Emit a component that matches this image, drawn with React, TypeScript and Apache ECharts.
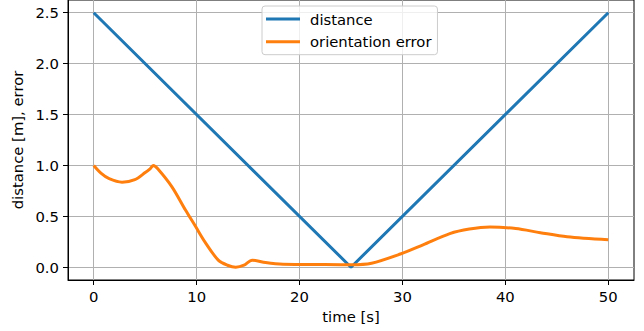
import React, { useEffect, useRef } from "react";
import * as echarts from "echarts";

const distTimes = [0, 25, 50];
const distValues = [2.5, 0, 2.5];

const errTimes = [0, 0.7, 1.5, 2.75, 4, 5, 5.5, 5.8, 6.2, 7.6, 8.9, 9.9, 10.8, 12.1, 13, 13.8, 14.6, 15.4, 16.7, 18.4, 21, 24, 25, 27, 29.8, 32, 34.6, 36.5, 38.5, 41, 43.4, 46, 50];
const errValues = [1.0, 0.925, 0.87, 0.836, 0.86, 0.93, 0.97, 1.0, 0.97, 0.79, 0.565, 0.4, 0.25, 0.07, 0.02, 0.0, 0.02, 0.07, 0.046, 0.03, 0.028, 0.025, 0.025, 0.04, 0.13, 0.22, 0.33, 0.375, 0.395, 0.38, 0.34, 0.3, 0.27];

const xTicks = [0, 10, 20, 30, 40, 50];
const yTicks = [0, 0.5, 1.0, 1.5, 2.0, 2.5];

const FONT = "DejaVu Sans";
const FS = 14.8;

export default function App() {
  const ref = useRef<HTMLDivElement>(null);
  useEffect(() => {
    if (!ref.current) return;
    const chart = echarts.init(ref.current, null, { renderer: "svg" });
    chart.setOption({
      animation: false,
      textStyle: { fontFamily: FONT },
      grid: {
        left: 68,
        right: 10,
        top: -1,
        bottom: 51,
        show: true,
        borderColor: "#000",
        borderWidth: 1,
        backgroundColor: "transparent",
      },
      legend: {
        orient: "vertical",
        left: 262,
        top: 6,
        padding: [4, 6, 4, 4],
        itemWidth: 34,
        itemHeight: 3,
        itemGap: 4.7,
        icon: "rect",
        backgroundColor: "rgba(255,255,255,0.8)",
        borderColor: "#cccccc",
        borderWidth: 1,
        borderRadius: 3,
        textStyle: {
          fontFamily: FONT,
          fontSize: FS,
          color: "#000",
          lineHeight: 18,
          padding: [0, 0, 0, 5],
        },
        data: ["distance", "orientation error"],
      },
      xAxis: {
        type: "value",
        min: -2.5,
        max: 52.5,
        minInterval: 10,
        maxInterval: 10,
        name: "time [s]",
        nameLocation: "middle",
        nameGap: 27,
        nameTextStyle: { fontFamily: FONT, fontSize: FS, color: "#000" },
        axisLine: { show: true, onZero: false, lineStyle: { color: "#000", width: 1 } },
        axisTick: { show: true, length: 5, customValues: xTicks, lineStyle: { color: "#000", width: 1 } },
        axisLabel: {
          customValues: xTicks,
          margin: 9,
          fontFamily: FONT,
          fontSize: FS,
          color: "#000",
          formatter: (v: number) => String(v),
        },
        splitLine: { show: true, lineStyle: { color: "#b0b0b0", width: 1 } },
      },
      yAxis: {
        type: "value",
        min: -0.125,
        max: 2.625,
        minInterval: 0.5,
        maxInterval: 0.5,
        name: "distance [m], error",
        nameLocation: "middle",
        nameGap: 35,
        nameTextStyle: { fontFamily: FONT, fontSize: FS, color: "#000" },
        axisLine: { show: true, onZero: false, lineStyle: { color: "#000", width: 1 } },
        axisTick: { show: true, length: 5, customValues: yTicks, lineStyle: { color: "#000", width: 1 } },
        axisLabel: {
          customValues: yTicks,
          margin: 9,
          fontFamily: FONT,
          fontSize: FS,
          color: "#000",
          formatter: (v: number) => v.toFixed(1),
        },
        splitLine: { show: true, lineStyle: { color: "#b0b0b0", width: 1 } },
      },
      series: [
        {
          name: "distance",
          type: "line",
          data: distTimes.map((t, i) => [t, distValues[i]]),
          showSymbol: false,
          symbol: "none",
          lineStyle: { color: "#1f77b4", width: 3 },
          itemStyle: { color: "#1f77b4" },
        },
        {
          name: "orientation error",
          type: "line",
          data: errTimes.map((t, i) => [t, errValues[i]]),
          showSymbol: false,
          symbol: "none",
          smooth: 0.3,
          lineStyle: { color: "#ff7f0e", width: 3 },
          itemStyle: { color: "#ff7f0e" },
        },
      ],
    });
    return () => chart.dispose();
  }, []);
  return (
    <div
      ref={ref}
      style={{ position: "fixed", left: 0, top: 0, width: 644, height: 331, background: "#fff" }}
    />
  );
}
